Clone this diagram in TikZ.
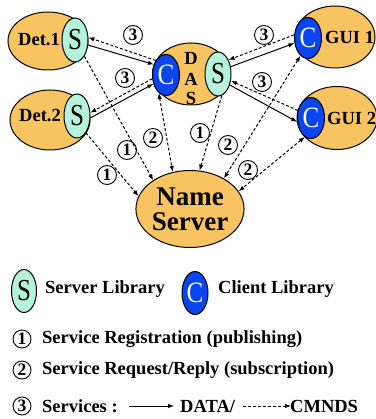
\documentclass[tikz,border=0pt]{standalone}
\usepackage{fontspec}
\usepackage{graphicx}
\setmainfont{Liberation Serif}
\usetikzlibrary{shapes.geometric,arrows.meta}
\definecolor{orng}{HTML}{F8C462}
\definecolor{mint}{HTML}{B5F2DC}
\definecolor{cblue}{HTML}{0A45F0}
\tikzset{
  host/.style={ellipse,draw,line width=1pt,fill=orng,inner sep=0},
  slib/.style={ellipse,draw,line width=1pt,fill=mint,inner sep=0,minimum width=26pt,minimum height=44pt,font=\fontsize{25}{25}\selectfont},
  clib/.style={ellipse,draw,line width=1pt,fill=cblue,text=white,inner sep=0,minimum width=27pt,minimum height=41pt,font=\fontsize{25}{25}\selectfont},
  lbl/.style={font=\bfseries\fontsize{18.5}{20}\selectfont,inner sep=0},
  num/.style={circle,draw,line width=0.9pt,minimum size=19pt,inner sep=0,font=\bfseries\fontsize{17.5}{17.5}\selectfont},
  sarr/.style={line width=1pt,-{Latex[length=6pt,width=4.5pt]}},
  darr/.style={sarr,dash pattern=on 3pt off 2pt},
  darrb/.style={line width=1pt,dash pattern=on 3pt off 2pt,{Latex[length=6pt,width=4.5pt]}-{Latex[length=6pt,width=4.5pt]}},
}
\newcommand{\tallS}{\scalebox{1}[1.22]{S}}
\newcommand{\tallC}{\scalebox{1}[1.18]{C}}
\begin{document}
\begin{tikzpicture}[x=1pt,y=-1pt]
\useasboundingbox (0,0) rectangle (375,419);
% Det.1
\node[host,minimum width=80pt,minimum height=58pt] (d1) at (48,41) {};
\node[lbl] (d1t) at (39,40) {Det.1};
\node[slib] (d1s) at (75,40) {\tallS};
% Det.2
\node[host,minimum width=80pt,minimum height=60pt] (d2) at (50,120) {};
\node[lbl] (d2t) at (40,116) {Det.2};
\node[slib] (d2s) at (77,116) {\tallS};
% DAS
\node[host,minimum width=77pt,minimum height=62pt] (das) at (191,74) {};
\node[clib] (dasc) at (166,75) {\tallC};
\node[slib] (dass) at (218,74) {\tallS};
\node[lbl] (dD) at (191,58) {D};
\node[lbl] (dA) at (191,79) {A};
\node[lbl] (dS) at (191,98) {S};
% GUI 1
\node[host,minimum width=80pt,minimum height=62pt] (g1) at (335,37) {};
\node[clib] (g1c) at (308,38) {\tallC};
\node[lbl,anchor=west] (g1t) at (325,37) {GUI 1};
% GUI 2
\node[host,minimum width=80pt,minimum height=63pt] (g2) at (337,118) {};
\node[clib] (g2c) at (311,118) {\tallC};
\node[lbl,anchor=west] (g2t) at (327,118) {GUI 2};
% Name Server
\node[host,minimum width=85pt,minimum height=77pt,align=center,font=\bfseries\fontsize{27}{25}\selectfont] (ns) at (190,209) {Name\\Server};
% services
\draw[sarr] (d1s.-21) -- (dasc.139);
\draw[darr] (dasc.125) -- (d1s.11);
\draw[sarr] (d2s.-8) -- (dasc.215);
\draw[darr] (dasc.195) -- (d2s.14);
\draw[sarr] (dass.30) -- (g1c.201);
\draw[darr] (g1c.167) -- (dass.53);
\draw[sarr] (dass.-43) -- (g2c.196);
\draw[darr] (g2c.150) -- (dass.-28);
% name server links
\draw[darr] (d1s.-60) -- (ns.142);
\draw[darr] (d2s.-62) -- (ns.166);
\draw[darrb] (dasc.-112) -- (ns.115);
\draw[darr] (dass.-80) -- (ns.76);
\draw[darrb] (g1c.-113) -- (ns.42);
\draw[darrb] (g2c.-108) -- (ns.20);
% circled numbers
\node[num] (c3a) at (133,35) {3};
\node[num] (c3b) at (125,78) {3};
\node[num] (c3c) at (264,35) {3};
\node[num] (c3d) at (262,82) {3};
\node[num] (c1a) at (107,175) {1};
\node[num] (c1b) at (127,150) {1};
\node[num] (c2a) at (153,138) {2};
\node[num] (c1c) at (200,133) {1};
\node[num] (c2b) at (228,145) {2};
\node[num] (c2c) at (248,170) {2};
% legend
\node[slib,minimum width=25pt,minimum height=43pt] (ls) at (24,291) {\tallS};
\node[lbl,anchor=west] (lst) at (45,289) {Server Library};
\node[clib,minimum width=26pt,minimum height=43pt] (lc) at (195,293) {\tallC};
\node[lbl,anchor=west] (lct) at (218,289) {Client Library};
\node[num,minimum size=18pt] (n1) at (22,339) {1};
\node[lbl,anchor=west] (t1) at (42,339) {Service Registration (publishing)};
\node[num,minimum size=18pt] (n2) at (22,370) {2};
\node[lbl,anchor=west] (t2) at (42,370) {Service Request/Reply (subscription)};
\node[num,minimum size=18pt] (n3) at (22,406) {3};
\node[lbl,anchor=west] (t3) at (42,406) {Services :};
\coordinate (a1s) at (129,406);
\coordinate (a1e) at (174,406);
\draw[sarr] (a1s) -- (a1e);
\node[lbl,anchor=west] (t4) at (180,406) {DATA/};
\coordinate (a2s) at (243,406);
\coordinate (a2e) at (291,406);
\draw[darr] (a2s) -- (a2e);
\node[lbl,anchor=west] (t5) at (290,406) {CMNDS};
\end{tikzpicture}
\end{document}
